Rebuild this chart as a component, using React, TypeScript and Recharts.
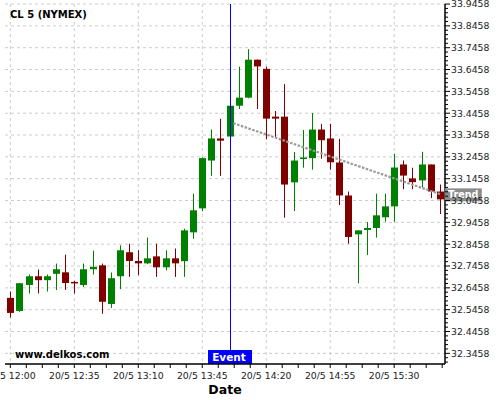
import React from "react";
import {
  ComposedChart,
  Bar,
  Line,
  XAxis,
  YAxis,
  CartesianGrid,
  ReferenceLine,
  ReferenceDot,
} from "recharts";

// 5-minute candles, 20/5
const times = [
  "12:00", "12:05", "12:10", "12:15", "12:20", "12:25", "12:30", "12:35",
  "12:40", "12:45", "12:50", "12:55", "13:00", "13:05", "13:10", "13:15",
  "13:20", "13:25", "13:30", "13:35", "13:40", "13:45", "13:50", "13:55",
  "14:00", "14:05", "14:10", "14:15", "14:20", "14:25", "14:30", "14:35",
  "14:40", "14:45", "14:50", "14:55", "15:00", "15:05", "15:10", "15:15",
  "15:20", "15:25", "15:30", "15:35", "15:40", "15:45", "15:50", "15:55",
];

const opens = [
  32.600, 32.540, 32.659, 32.699, 32.681, 32.710, 32.717, 32.673, 32.659, 32.731, 32.749, 32.572,
  32.699, 32.809, 32.769, 32.758, 32.790, 32.740, 32.781, 32.768, 32.900, 33.010, 33.229, 33.330,
  33.339, 33.480, 33.517, 33.691, 33.649, 33.430, 33.430, 33.129, 33.237, 33.240, 33.371, 33.330,
  33.220, 33.069, 32.891, 32.911, 32.920, 32.969, 33.019, 33.211, 33.147, 33.138, 33.211, 33.087,
];
const highs = [
  32.629, 32.668, 32.707, 32.730, 32.707, 32.757, 32.798, 32.678, 32.757, 32.816, 32.757, 32.716,
  32.841, 32.848, 32.818, 32.876, 32.848, 32.818, 32.826, 32.917, 33.077, 33.244, 33.371, 33.420,
  33.482, 33.659, 33.739, 33.691, 33.659, 33.456, 33.579, 33.268, 33.369, 33.447, 33.397, 33.397,
  33.328, 33.087, 32.909, 32.947, 33.077, 33.077, 33.260, 33.229, 33.196, 33.269, 33.211, 33.119,
];
const lows = [
  32.510, 32.536, 32.620, 32.620, 32.629, 32.636, 32.636, 32.620, 32.650, 32.707, 32.527, 32.554,
  32.640, 32.696, 32.704, 32.754, 32.696, 32.726, 32.696, 32.696, 32.871, 32.997, 33.159, 33.159,
  33.337, 33.465, 33.514, 33.465, 33.326, 33.335, 32.967, 32.997, 33.196, 33.187, 33.237, 33.187,
  33.025, 32.848, 32.666, 32.796, 32.876, 32.949, 32.949, 33.098, 33.098, 33.106, 33.057, 32.984,
];
const closes = [
  32.531, 32.667, 32.699, 32.681, 32.699, 32.731, 32.668, 32.667, 32.731, 32.742, 32.582, 32.690,
  32.818, 32.769, 32.758, 32.781, 32.740, 32.781, 32.758, 32.909, 33.001, 33.240, 33.330, 33.320,
  33.480, 33.517, 33.691, 33.660, 33.421, 33.421, 33.119, 33.229, 33.243, 33.371, 33.322, 33.221,
  33.069, 32.879, 32.909, 32.920, 32.978, 33.019, 33.197, 33.160, 33.130, 33.211, 33.087, 33.051,
];

// trend line (candle index, price)
const trendX = [24.4, 47.1];
const trendY = [33.4, 33.074];

const eventIndex = 24;

const yTickLabels = [
  "32.3458", "32.4458", "32.5458", "32.6458", "32.7458", "32.8458",
  "32.9458", "33.0458", "33.1458", "33.2458", "33.3458", "33.4458",
  "33.5458", "33.6458", "33.7458", "33.8458", "33.9458",
];
const xTickIndexes = [0, 7, 14, 21, 28, 35, 42];

const GREEN = "#008000";
const RED = "#800000";
const FONT = "DejaVu Sans";
const BODY_W = 7;

const candles = times.map((t, i) => ({
  i,
  time: t,
  open: opens[i],
  high: highs[i],
  low: lows[i],
  close: closes[i],
}));

const trendData = trendX.map((x, k) => ({ i: x, trend: trendY[k] }));

const majorY = yTickLabels.map(Number);
// minor ticks every 0.02 between the labelled ones
const minorY: number[] = [];
for (let k = -2; k <= 80; k++) {
  const v = Math.round((32.3458 + k * 0.02) * 10000) / 10000;
  if (v >= 32.297 && v <= 33.946) minorY.push(v);
}
const minorX: number[] = [];
for (let k = 0; k * 1.75 <= 47.5; k++) minorX.push(k * 1.75);

const Candle = (props: any) => {
  const { x, y, width, height, payload } = props;
  if (x == null || y == null || !payload) return null;
  const { open, close, high, low } = payload;
  const top = Math.min(y, y + height);
  const h = Math.abs(height);
  const span = high - low || 1;
  const px = (v: number) => top + ((high - v) / span) * h;
  const color = close >= open ? GREEN : RED;
  const bodyTop = px(Math.max(open, close));
  const bodyH = Math.max(px(Math.min(open, close)) - bodyTop, 1.5);
  const c = Math.round(x + (width || 0) / 2);
  return (
    <g>
      <line x1={c + 0.5} x2={c + 0.5} y1={top} y2={top + h} stroke={color} strokeWidth={1} />
      <rect x={c - 3} y={bodyTop} width={BODY_W} height={bodyH} fill={color} />
    </g>
  );
};

const YTick = (props: any) => {
  const { x, y, payload } = props;
  const idx = majorY.findIndex((m) => Math.abs(m - payload.value) < 1e-6);
  const major = idx >= 0;
  return (
    <g>
      <line x1={x} x2={x + (major ? 5 : 3)} y1={y} y2={y} stroke="#000" strokeWidth={1} />
      {major && (
        <text x={x + 6} y={y} dy="0.36em" fontSize={9.3} fontFamily={FONT} fill="#222">
          {yTickLabels[idx]}
        </text>
      )}
    </g>
  );
};

const XTick = (props: any) => {
  const { x, y, payload } = props;
  const major = xTickIndexes.includes(payload.value);
  return (
    <g>
      <line x1={x} x2={x} y1={y} y2={y + 4} stroke="#000" strokeWidth={1} />
      {major && (
        <text x={x} y={y + 15} textAnchor="middle" fontSize={9.3} fontFamily={FONT} fill="#222">
          {"20/5 " + times[payload.value]}
        </text>
      )}
    </g>
  );
};

const EventLine = (props: any) => {
  const { x1, y1, y2 } = props;
  if (x1 == null) return null;
  const x = Math.round(x1) + 0.5;
  return <line x1={x} x2={x} y1={y1} y2={y2} stroke="#0000ff" strokeWidth={1} />;
};

const EventTag = (props: any) => {
  const vb = props.viewBox || {};
  const bottom = vb.y + vb.height;
  const x = Math.round(vb.x);
  return (
    <g>
      <rect x={x - 22} y={bottom - 14} width={44} height={14} fill="#0000ff" />
      <text
        x={x - 1}
        y={bottom - 3}
        textAnchor="middle"
        fontSize={10.5}
        fontWeight="bold"
        fontFamily={FONT}
        fill="#fff"
      >
        Event
      </text>
    </g>
  );
};

const TrendTag = (props: any) => {
  const { cx, cy } = props;
  if (cx == null || cy == null) return null;
  return (
    <g>
      <rect x={cx + 4} y={cy - 6} width={37} height={13} fill="#8c8c8c" />
      <text
        x={cx + 22.5}
        y={cy + 4}
        textAnchor="middle"
        fontSize={9.6}
        fontWeight="bold"
        fontFamily={FONT}
        fill="#fff"
      >
        Trend
      </text>
    </g>
  );
};

const App: React.FC = () => {
  return (
    <div style={{ position: "absolute", left: 0, top: 0, width: 500, height: 400 }}>
      <ComposedChart
        width={500}
        height={400}
        data={candles}
        margin={{ top: 4, right: 0, left: 5, bottom: 0 }}
        style={{ fontFamily: FONT }}
      >
        <CartesianGrid
          stroke="#cccccc"
          strokeDasharray="3 3"
          horizontalValues={majorY}
          verticalValues={xTickIndexes}
        />
        <XAxis
          dataKey="i"
          type="number"
          domain={[-0.58, 47.56]}
          allowDataOverflow
          ticks={minorX}
          interval={0}
          height={36}
          tickSize={0}
          tickMargin={0}
          tickLine={false}
          axisLine={{ stroke: "#000", strokeWidth: 1.5 }}
          tick={<XTick />}
        />
        <YAxis
          orientation="right"
          type="number"
          domain={[32.297, 33.946]}
          allowDataOverflow
          ticks={minorY}
          interval={0}
          width={55}
          tickSize={0}
          tickMargin={0}
          tickLine={false}
          axisLine={{ stroke: "#000", strokeWidth: 1.5 }}
          tick={<YTick />}
        />
        <Bar
          dataKey={(d: any) => [d.low, d.high]}
          barSize={7}
          shape={<Candle />}
          isAnimationActive={false}
        />
        <ReferenceLine
          x={eventIndex}
          shape={<EventLine />}
          label={<EventTag />}
        />
        <Line
          data={trendData}
          dataKey="trend"
          stroke="#999999"
          strokeWidth={2.2}
          strokeDasharray="2.5 1.5"
          dot={false}
          activeDot={false}
          isAnimationActive={false}
        />
        <ReferenceDot
          x={trendX[1]}
          y={trendY[1]}
          ifOverflow="visible"
          shape={<TrendTag />}
        />
      </ComposedChart>
      <svg
        width={500}
        height={400}
        style={{ position: "absolute", left: 0, top: 0, pointerEvents: "none" }}
      >
        <text x={10} y={18} fontSize={10} fontWeight="bold" fontFamily={FONT} fill="#000">
          CL 5 (NYMEX)
        </text>
        <text x={15} y={357.5} fontSize={10} fontWeight="bold" fontFamily={FONT} fill="#000">
          www.delkos.com
        </text>
        <text x={225} y={394} textAnchor="middle" fontSize={12.5} fontWeight="bold" fontFamily={FONT} fill="#000">
          Date
        </text>
      </svg>
    </div>
  );
};

export default App;
